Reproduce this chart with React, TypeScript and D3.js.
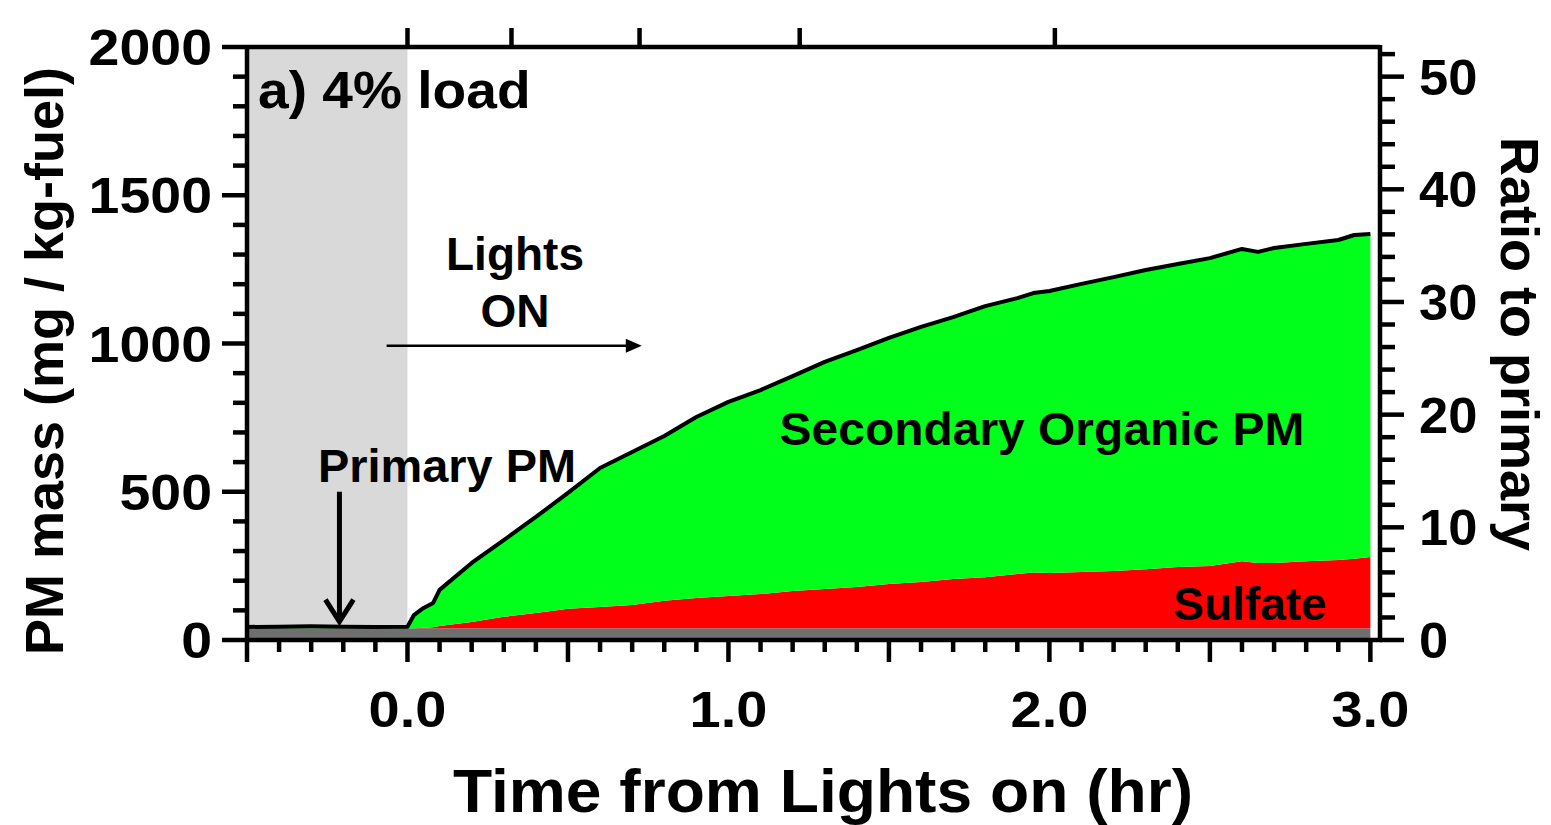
import React from 'react';
import * as d3 from 'd3';

// Time from lights on (hr)
const TIME = [-0.5, -0.4, -0.3, -0.2, -0.1, 0.0, 0.02, 0.05, 0.08, 0.1, 0.2, 0.3, 0.4, 0.5, 0.6, 0.7, 0.8, 0.9, 1.0, 1.1, 1.2, 1.3, 1.4, 1.5, 1.6, 1.7, 1.8, 1.9, 1.95, 2.0, 2.1, 2.2, 2.3, 2.4, 2.5, 2.6, 2.65, 2.7, 2.8, 2.9, 2.95, 3.0];
// PM components (mg / kg-fuel)
const PRIMARY_PM = [40, 40, 40, 40, 40, 40, 40, 40, 40, 40, 40, 40, 40, 40, 40, 40, 40, 40, 40, 40, 40, 40, 40, 40, 40, 40, 40, 40, 40, 40, 40, 40, 40, 40, 40, 40, 40, 40, 40, 40, 40, 40];
const SULFATE = [0, 0, 0, 0, 0, 0, 0, 1, 3, 7, 21, 38, 51, 65, 71, 78, 92, 102, 108, 115, 125, 132, 139, 149, 156, 166, 172, 183, 188, 186, 189, 193, 199, 206, 210, 226, 220, 220, 226, 230, 234, 240];
const SECONDARY_ORGANIC = [4, 5, 6, 5, 4, 5, 44, 67, 82, 122, 199, 259, 324, 391, 469, 516, 556, 610, 655, 688, 725, 766, 799, 830, 860, 883, 914, 930, 942, 951, 972, 991, 1009, 1022, 1038, 1053, 1049, 1062, 1070, 1079, 1092, 1089];

const LEFT_TICKS = [0, 500, 1000, 1500, 2000];
const RIGHT_TICKS = [0, 10, 20, 30, 40, 50];
const BOTTOM_LABELS = [0, 1, 2, 3];
const TOP_TICKS = [0, 0.324, 0.723, 1.222, 2.017];

const FONT = '"Liberation Sans", Arial, Helvetica, sans-serif';

// Bold text, optionally widened horizontally around its anchor point
function Label(props: {
  x: number;
  y: number;
  size: number;
  sx?: number;
  anchor?: 'start' | 'middle' | 'end';
  dy?: string;
  children: React.ReactNode;
}) {
  const { x, y, size, sx = 1, anchor = 'start', dy, children } = props;
  return (
    <g transform={`translate(${x},${y}) scale(${sx},1)`}>
      <text x={0} y={0} dy={dy} textAnchor={anchor} fontSize={size}>
        {children}
      </text>
    </g>
  );
}

export default function App() {
  const W = 1551;
  const H = 825;
  const L = 247, R = 1380, T = 47, B = 640;

  const x = d3.scaleLinear().domain([-0.5, 3.03]).range([L, R]);
  const y = d3.scaleLinear().domain([0, 2000]).range([B, T]);
  const y2 = d3.scaleLinear().domain([0, 52.63]).range([B, T]);

  const rows = TIME.map((t, i) => ({
    t,
    primary: PRIMARY_PM[i],
    sulfate: SULFATE[i],
    soa: SECONDARY_ORGANIC[i],
  }));
  const series = d3.stack<any>().keys(['primary', 'sulfate', 'soa'])(rows);
  const area = d3
    .area<any>()
    .x((d) => x(d.data.t))
    .y0((d) => y(d[0]))
    .y1((d) => y(d[1]));
  const totalLine = d3
    .line<any>()
    .x((r) => x(r.t))
    .y((r) => y(r.primary + r.sulfate + r.soa));

  const fills: Record<string, string> = { primary: '#6f6f6f', sulfate: '#ff0000', soa: '#00ff1a' };

  const bottomMinor = d3.range(-5, 31).map((k) => k / 10).filter((v) => Math.abs(v * 2 - Math.round(v * 2)) > 1e-6);
  const bottomMajor = d3.range(-1, 7).map((k) => k / 2);
  const leftMinor = d3.range(0, 2001, 100).filter((v) => v % 500 !== 0);
  const rightMinor = d3.range(0, 53, 2).filter((v) => v % 10 !== 0);

  const SW = 4.5;
  const ticks: React.ReactNode[] = [];
  bottomMajor.forEach((v, i) =>
    ticks.push(<line key={'bM' + i} x1={x(v)} x2={x(v)} y1={B} y2={B + 22} stroke="#000" strokeWidth={SW} />)
  );
  bottomMinor.forEach((v, i) =>
    ticks.push(<line key={'bm' + i} x1={x(v)} x2={x(v)} y1={B} y2={B + 12} stroke="#000" strokeWidth={SW} />)
  );
  LEFT_TICKS.forEach((v, i) =>
    ticks.push(<line key={'lM' + i} x1={L - 25} x2={L} y1={y(v)} y2={y(v)} stroke="#000" strokeWidth={SW} />)
  );
  leftMinor.forEach((v, i) =>
    ticks.push(<line key={'lm' + i} x1={L - 14} x2={L} y1={y(v)} y2={y(v)} stroke="#000" strokeWidth={SW} />)
  );
  RIGHT_TICKS.forEach((v, i) =>
    ticks.push(<line key={'rM' + i} x1={R} x2={R + 24} y1={y2(v)} y2={y2(v)} stroke="#000" strokeWidth={SW} />)
  );
  rightMinor.forEach((v, i) =>
    ticks.push(<line key={'rm' + i} x1={R} x2={R + 15} y1={y2(v)} y2={y2(v)} stroke="#000" strokeWidth={SW} />)
  );
  TOP_TICKS.forEach((v, i) =>
    ticks.push(<line key={'t' + i} x1={x(v)} x2={x(v)} y1={T} y2={T - 19} stroke="#000" strokeWidth={SW} />)
  );

  // annotation arrows
  const downX = x(-0.212);
  const downTop = y(500);
  const downTip = y(62);
  const lightsY = y(992);
  const lightsX0 = x(-0.065);
  const lightsX1 = x(0.73);

  return (
    <svg
      width={W}
      height={H}
      viewBox={`0 0 ${W} ${H}`}
      style={{ position: 'absolute', left: 0, top: 0, background: '#fff' }}
      fontFamily={FONT}
      fontWeight="bold"
    >
      <rect x={0} y={0} width={W} height={H} fill="#fff" />
      {/* dark period before lights on */}
      <rect x={x(-0.5)} y={T} width={x(0) - x(-0.5)} height={B - T} fill="#d9d9d9" />

      {series.map((s) => (
        <path key={s.key} d={area(s as any) || ''} fill={fills[s.key]} />
      ))}
      <path d={totalLine(rows) || ''} fill="none" stroke="#000" strokeWidth={4} strokeLinejoin="round" />

      {/* frame */}
      <line x1={L} x2={R} y1={T} y2={T} stroke="#000" strokeWidth={SW} />
      <line x1={R} x2={R} y1={T - 2} y2={B} stroke="#000" strokeWidth={SW} />
      <line x1={L} x2={L} y1={T - 2} y2={B + 2} stroke="#000" strokeWidth={SW} />
      <line x1={L - 2} x2={R + 2} y1={B} y2={B} stroke="#000" strokeWidth={SW} />
      {ticks}

      {/* tick labels */}
      {LEFT_TICKS.map((v) => (
        <Label key={'ll' + v} x={212} y={y(v)} dy="0.36em" anchor="end" size={50} sx={1.11}>
          {v}
        </Label>
      ))}
      {RIGHT_TICKS.map((v) => (
        <Label key={'rl' + v} x={1419} y={y2(v)} dy="0.36em" anchor="start" size={50} sx={1.05}>
          {v}
        </Label>
      ))}
      {BOTTOM_LABELS.map((v) => (
        <Label key={'bl' + v} x={x(v)} y={727} anchor="middle" size={50} sx={1.12}>
          {v.toFixed(1)}
        </Label>
      ))}

      {/* axis titles */}
      <Label x={823} y={812} anchor="middle" size={62} sx={1.035}>
        Time from Lights on (hr)
      </Label>
      <text transform={`translate(63,${361}) rotate(-90)`} textAnchor="middle" fontSize={54}>
        PM mass (mg / kg-fuel)
      </text>
      <text transform={`translate(1501,${344}) rotate(90)`} textAnchor="middle" fontSize={54}>
        Ratio to primary
      </text>

      {/* panel label and annotations */}
      <Label x={258} y={108} size={52} sx={1.06}>
        a) 4% load
      </Label>
      <Label x={515} y={270} anchor="middle" size={46}>
        Lights
      </Label>
      <Label x={515} y={327} anchor="middle" size={46}>
        ON
      </Label>
      <line x1={lightsX0} x2={lightsX1 - 12} y1={lightsY} y2={lightsY} stroke="#000" strokeWidth={2.5} />
      <path
        d={`M${lightsX1},${lightsY} L${lightsX1 - 16},${lightsY - 7} L${lightsX1 - 16},${lightsY + 7} Z`}
        fill="#000"
      />

      <Label x={447} y={482} anchor="middle" size={46} sx={1.02}>
        Primary PM
      </Label>
      <line x1={downX} x2={downX} y1={downTop} y2={downTip - 2} stroke="#000" strokeWidth={5} />
      <path
        d={`M${downX - 14},${downTip - 22} L${downX},${downTip} L${downX + 14},${downTip - 22}`}
        fill="none"
        stroke="#000"
        strokeWidth={5}
      />

      <Label x={1042} y={445} anchor="middle" size={47} sx={1.02}>
        Secondary Organic PM
      </Label>
      <Label x={1250} y={620} anchor="middle" size={46}>
        Sulfate
      </Label>
    </svg>
  );
}
